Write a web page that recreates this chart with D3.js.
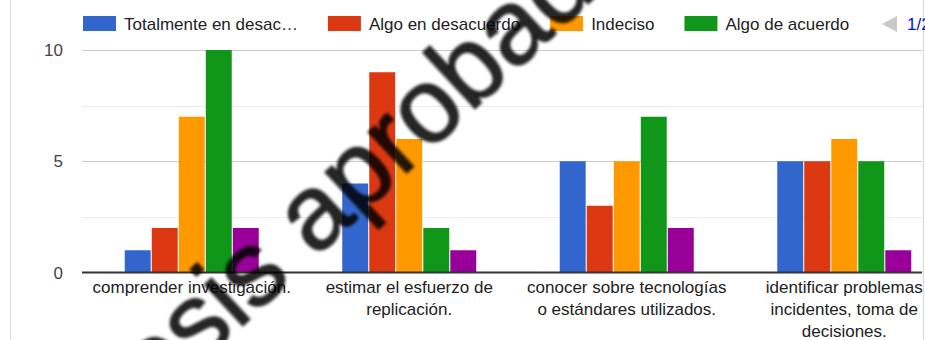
<!DOCTYPE html>
<html>
<head>
<meta charset="utf-8">
<script src="https://cdn.jsdelivr.net/npm/d3@7"></script>
<style>
  html, body { margin: 0; padding: 0; background: #fff; }
  svg { display: block; font-family: Arial, "Liberation Sans", sans-serif; }
</style>
</head>
<body>
<svg id="chart" width="925" height="340"></svg>
<script>
// Survey answers per statement, counted by agreement level
const categories = [
  ["comprender investigación."],
  ["estimar el esfuerzo de", "replicación."],
  ["conocer sobre tecnologías", "o estándares utilizados."],
  ["identificar problemas", "incidentes, toma de", "decisiones."]
];
const seriesNames = ["Totalmente en desac…", "Algo en desacuerdo", "Indeciso", "Algo de acuerdo", "Totalmente de acuerdo"];
const seriesColors = ["#3366cc", "#dc3912", "#ff9900", "#109618", "#990099"];
const totalmenteDesacuerdo = [1, 4, 5, 5];
const algoDesacuerdo = [2, 9, 3, 5];
const indeciso = [7, 6, 5, 6];
const algoAcuerdo = [10, 2, 7, 5];
const totalmenteAcuerdo = [2, 1, 2, 1];
const yTicks = [0, 5, 10];
const yGrid = [2.5, 7.5];
const legendPage = "1/2";

const series = [totalmenteDesacuerdo, algoDesacuerdo, indeciso, algoAcuerdo, totalmenteAcuerdo];

const svg = d3.select("#chart");
const W = 925, H = 340;
const plotLeft = 82, plotRight = 922;
const fontSize = 17;

// card borders
svg.append("line").attr("x1", 10.5).attr("x2", 10.5).attr("y1", 0).attr("y2", H)
  .attr("stroke", "#dadada");
svg.append("line").attr("x1", 923.5).attr("x2", 923.5).attr("y1", 0).attr("y2", H)
  .attr("stroke", "#dadada");

const catIdx = categories.map((d, i) => i);
const x0 = d3.scaleBand().domain(catIdx).range([83, 953]).padding(0);
const groupW = 134;
const x1 = d3.scaleBand().domain(d3.range(series.length)).range([0, groupW]).paddingInner(0.04);
const y = d3.scaleLinear().domain([0, 10]).range([272.5, 50]);

// gridlines
const g = svg.append("g");
g.selectAll("line.minor").data(yGrid).join("line")
  .attr("x1", plotLeft).attr("x2", plotRight)
  .attr("y1", d => Math.round(y(d)) + 0.5).attr("y2", d => Math.round(y(d)) + 0.5)
  .attr("stroke", "#ebebeb");
g.selectAll("line.major").data(yTicks.filter(d => d !== 0)).join("line")
  .attr("x1", plotLeft).attr("x2", plotRight)
  .attr("y1", d => Math.round(y(d)) + 0.5).attr("y2", d => Math.round(y(d)) + 0.5)
  .attr("stroke", "#cccccc");

// y tick labels
svg.append("g").selectAll("text").data(yTicks).join("text")
  .attr("x", 63).attr("y", d => y(d) + 6)
  .attr("text-anchor", "end")
  .attr("font-size", fontSize).attr("fill", "#444")
  .text(d => d);

// bars
const groups = svg.append("g").selectAll("g").data(catIdx).join("g")
  .attr("transform", d => `translate(${x0(d) + (x0.bandwidth() - groupW) / 2},0)`);
groups.selectAll("rect").data(ci => series.map((s, si) => ({ si, v: s[ci] }))).join("rect")
  .attr("x", d => x1(d.si))
  .attr("width", x1.bandwidth())
  .attr("y", d => y(d.v))
  .attr("height", d => y(0) - y(d.v))
  .attr("fill", d => seriesColors[d.si]);

// baseline
svg.append("line").attr("x1", plotLeft).attr("x2", plotRight)
  .attr("y1", y(0)).attr("y2", y(0))
  .attr("stroke", "#333").attr("stroke-width", 2);

// category labels
const labels = svg.append("g").selectAll("text").data(catIdx).join("text")
  .attr("text-anchor", "middle").attr("font-size", fontSize).attr("fill", "#222");
labels.each(function (ci) {
  d3.select(this).selectAll("tspan").data(categories[ci]).join("tspan")
    .attr("x", x0(ci) + x0.bandwidth() / 2)
    .attr("y", (d, i) => 293 + i * 22)
    .text(d => d);
});

// legend (first page)
const legend = svg.append("g");
let lx = 83;
seriesNames.slice(0, 4).forEach((name, i) => {
  legend.append("rect").attr("x", lx).attr("y", 16).attr("width", 33).attr("height", 15)
    .attr("fill", seriesColors[i]);
  const t = legend.append("text").attr("x", lx + 41).attr("y", 30)
    .attr("font-size", fontSize).attr("fill", "#222").text(name);
  lx += 41 + t.node().getComputedTextLength() + 30;
});
legend.append("path")
  .attr("d", "M882,24 L897,16 L897,32 Z").attr("fill", "#c8c8c8");
legend.append("text").attr("x", 907).attr("y", 30)
  .attr("font-size", fontSize).attr("fill", "#0011cc").text(legendPage);

// watermark stamp across the chart
const defs = svg.append("defs");
defs.append("filter").attr("id", "soft").attr("x", "-20%").attr("y", "-20%")
  .attr("width", "140%").attr("height", "140%")
  .append("feGaussianBlur").attr("stdDeviation", 1.7);
svg.append("text")
  .attr("transform", "translate(117,443) rotate(-43)")
  .attr("font-size", 106)
  .attr("font-family", "Arial, 'Liberation Sans', sans-serif")
  .attr("fill", "#000").attr("fill-opacity", 0.85)
  .attr("stroke", "#000").attr("stroke-opacity", 0.85).attr("stroke-width", 1.5)
  .attr("filter", "url(#soft)")
  .text("Tesis aprobada");
</script>
</body>
</html>
